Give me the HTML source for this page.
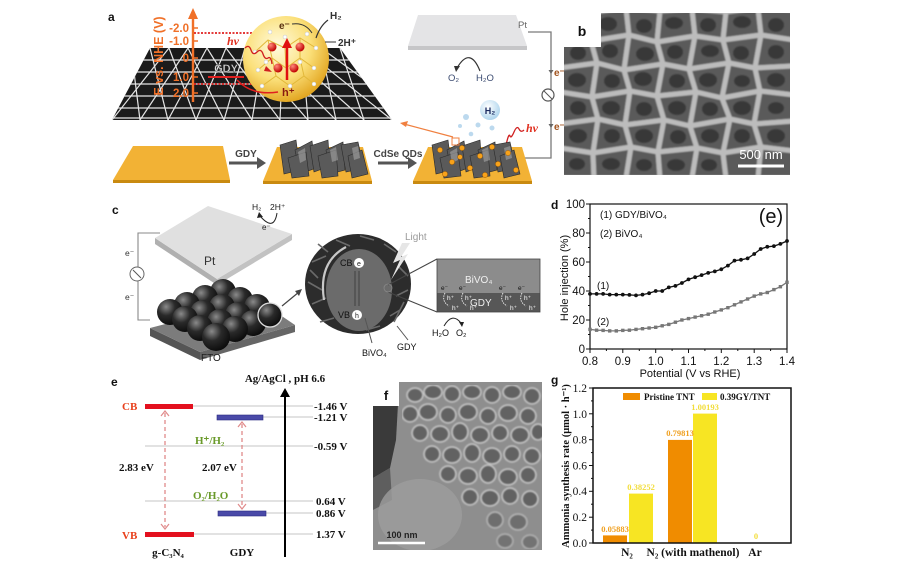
<!DOCTYPE html>
<html><head><meta charset="utf-8"><style>
html,body{margin:0;padding:0;background:#fff;}
svg{display:block;}
.sans{font-family:"Liberation Sans",Arial,sans-serif;}
.serif{font-family:"Liberation Serif","Times New Roman",serif;}
</style></head><body>
<svg width="900" height="567" viewBox="0 0 900 567" xmlns="http://www.w3.org/2000/svg">
<defs>
<radialGradient id="sph" cx="0.4" cy="0.35" r="0.7"><stop offset="0" stop-color="#fffbe0"/><stop offset="0.55" stop-color="#fbe07a"/><stop offset="1" stop-color="#e0a018"/></radialGradient>
<radialGradient id="ball" cx="0.35" cy="0.3" r="0.75"><stop offset="0" stop-color="#8a8a8a"/><stop offset="0.45" stop-color="#2a2a2a"/><stop offset="1" stop-color="#0a0a0a"/></radialGradient>
<radialGradient id="bub" cx="0.4" cy="0.35" r="0.7"><stop offset="0" stop-color="#ffffff"/><stop offset="1" stop-color="#a9d2ec"/></radialGradient>
<radialGradient id="rb" cx="0.35" cy="0.3" r="0.7"><stop offset="0" stop-color="#ff8a7a"/><stop offset="1" stop-color="#c00000"/></radialGradient>
<clipPath id="plateA"><polygon points="150,48 340,48 392,120 112,120"/></clipPath>
<clipPath id="clipB"><path d="M601,13 H790 V175 H564 V47 H601 Z"/></clipPath>
<clipPath id="clipF"><path d="M399,382 H542 V550 H373 V406 H399 Z"/></clipPath>
<filter id="soft" x="0" y="0" width="1" height="1"><feGaussianBlur stdDeviation="0.9"/></filter>
<marker id="mk1" markerWidth="5" markerHeight="5" refX="2.5" refY="2.5" markerUnits="userSpaceOnUse"><circle cx="2.5" cy="2.5" r="1.9" fill="#111"/></marker>
<marker id="mk2" markerWidth="5" markerHeight="5" refX="2.5" refY="2.5" markerUnits="userSpaceOnUse"><rect x="0.8" y="0.8" width="3.4" height="3.4" fill="#777"/></marker>
</defs>

<!-- ================= PANEL A ================= -->
<text x="108" y="21" class="sans" font-size="12" font-weight="bold" fill="#111">a</text>
<polygon points="150,48 340,48 392,120 112,120" fill="#1b1b1b"/>
<g clip-path="url(#plateA)" stroke="#e6e6e6" stroke-width="1.2" fill="none">
<line x1="100" y1="60" x2="400" y2="60"/><line x1="100" y1="72" x2="400" y2="72"/><line x1="100" y1="84" x2="400" y2="84"/><line x1="100" y1="96" x2="400" y2="96"/><line x1="100" y1="108" x2="400" y2="108"/><line x1="100" y1="118" x2="400" y2="118"/>
<line x1="93" y1="48" x2="84" y2="120"/><line x1="112" y1="48" x2="112" y2="120"/>
<line x1="131" y1="48" x2="140" y2="120"/><line x1="150" y1="48" x2="168" y2="120"/><line x1="169" y1="48" x2="196" y2="120"/><line x1="188" y1="48" x2="224" y2="120"/><line x1="207" y1="48" x2="252" y2="120"/><line x1="226" y1="48" x2="280" y2="120"/><line x1="245" y1="48" x2="308" y2="120"/><line x1="264" y1="48" x2="336" y2="120"/><line x1="283" y1="48" x2="364" y2="120"/><line x1="302" y1="48" x2="392" y2="120"/><line x1="321" y1="48" x2="420" y2="120"/><line x1="340" y1="48" x2="448" y2="120"/>
<line x1="150" y1="48" x2="84" y2="120"/><line x1="169" y1="48" x2="112" y2="120"/><line x1="188" y1="48" x2="140" y2="120"/><line x1="207" y1="48" x2="168" y2="120"/><line x1="226" y1="48" x2="196" y2="120"/><line x1="245" y1="48" x2="224" y2="120"/><line x1="264" y1="48" x2="252" y2="120"/><line x1="283" y1="48" x2="280" y2="120"/><line x1="302" y1="48" x2="308" y2="120"/><line x1="321" y1="48" x2="336" y2="120"/><line x1="340" y1="48" x2="364" y2="120"/><line x1="359" y1="48" x2="392" y2="120"/><line x1="378" y1="48" x2="420" y2="120"/>
</g>
<!-- axis -->
<line x1="193" y1="102" x2="193" y2="16" stroke="#f07028" stroke-width="2.4"/>
<polygon points="188,19 193,8 198,19" fill="#f07028"/>
<g stroke="#f07028" stroke-width="1.5"><line x1="193" y1="28" x2="198" y2="28"/><line x1="193" y1="41" x2="198" y2="41"/><line x1="193" y1="58" x2="198" y2="58"/><line x1="193" y1="77" x2="198" y2="77"/><line x1="193" y1="93" x2="198" y2="93"/></g>
<g class="sans" font-size="11.5" font-weight="bold" fill="#f07028" text-anchor="end">
<text x="189" y="32">-2.0</text><text x="189" y="45">-1.0</text><text x="189" y="62">0</text><text x="189" y="81">1.0</text><text x="189" y="97">2.0</text></g>
<text transform="translate(163,56) rotate(-90)" text-anchor="middle" class="sans" font-size="12.5" font-weight="bold" fill="#f07028">E vs. NHE (V)</text>
<line x1="194" y1="33" x2="262" y2="33" stroke="#e02020" stroke-width="1.8" stroke-dasharray="2,1.5"/>
<line x1="194" y1="84" x2="262" y2="84" stroke="#e02020" stroke-width="1.8" stroke-dasharray="2,1.5"/>
<line x1="208" y1="77" x2="244" y2="77" stroke="#e02020" stroke-width="2"/>
<text x="226" y="72" text-anchor="middle" class="sans" font-size="11" font-weight="bold" fill="#ddd" stroke="#333" stroke-width="0.4">GDY</text>
<!-- sphere -->
<circle cx="286" cy="59" r="43" fill="url(#sph)"/>
<g stroke="#e2b83a" stroke-width="1" fill="none">
<polyline points="255,52 268,40 285,48 300,38 316,48"/><polyline points="258,70 272,58 286,68 300,58 314,68"/><polyline points="262,86 276,76 290,86 304,76 314,84"/>
<line x1="268" y1="40" x2="272" y2="58"/><line x1="300" y1="38" x2="300" y2="58"/><line x1="285" y1="48" x2="286" y2="68"/><line x1="272" y1="58" x2="276" y2="76"/><line x1="300" y1="58" x2="304" y2="76"/></g>
<g fill="#fff" stroke="#bbb" stroke-width="0.4">
<circle cx="255" cy="52" r="2"/><circle cx="285" cy="37" r="2"/><circle cx="316" cy="48" r="2"/><circle cx="258" cy="70" r="2"/><circle cx="314" cy="68" r="2"/><circle cx="262" cy="86" r="2"/><circle cx="290" cy="86" r="2"/><circle cx="314" cy="84" r="2"/><circle cx="307" cy="34" r="2"/><circle cx="270" cy="32" r="2"/><circle cx="300" cy="62" r="2"/><circle cx="266" cy="62" r="2"/></g>
<g fill="url(#rb)"><circle cx="272" cy="47" r="4.5"/><circle cx="300" cy="47" r="4.5"/><circle cx="278" cy="68" r="4.5"/><circle cx="294" cy="68" r="4.5"/></g>
<line x1="287" y1="80" x2="287" y2="46" stroke="#e01010" stroke-width="2.5"/><polygon points="282,48 287,38 292,48" fill="#e01010"/>
<path d="M245,48 q4,-4 6,2 t6,2 t6,2 t5,4 t4,6" fill="none" stroke="#d02020" stroke-width="1.3"/>
<polygon points="266,66 272,72 264,71" fill="#d02020"/>
<text x="227" y="45" class="serif" font-size="12" font-style="italic" font-weight="bold" fill="#e03020">hv</text>
<path d="M237,80 Q252,96 278,92" fill="none" stroke="#e02020" stroke-width="1.5"/>
<text x="282" y="96" class="sans" font-size="11" font-weight="bold" fill="#8a1a10">h⁺</text>
<text x="279" y="29" class="sans" font-size="10" font-weight="bold" fill="#5a3010">e⁻</text>
<path d="M292,24 Q305,22 312,33" fill="none" stroke="#333" stroke-width="1"/>
<path d="M316,38 Q320,26 328,20" fill="none" stroke="#333" stroke-width="1.2"/>
<text x="330" y="19" class="sans" font-size="10" font-weight="bold" fill="#333">H₂</text>
<line x1="325" y1="42" x2="336" y2="42" stroke="#333" stroke-width="1"/>
<text x="338" y="46" class="sans" font-size="10" font-weight="bold" fill="#333">2H⁺</text>
<!-- Pt plate a -->
<polygon points="418,15 516,15 527,46 408,46" fill="#e4e4e6"/>
<polygon points="408,46 527,46 527,50 408,50" fill="#c6c6c8"/>
<text x="518" y="28" class="sans" font-size="9.5" fill="#666">Pt</text>
<path d="M528,32 H551 V158 H522" fill="none" stroke="#7a7a7a" stroke-width="1.3"/>
<circle cx="548" cy="95" r="6" fill="#fff" stroke="#555" stroke-width="1.2"/>
<line x1="544" y1="91" x2="552" y2="99" stroke="#555" stroke-width="1"/>
<polygon points="548.5,70 553.5,70 551,74" fill="#666"/><polygon points="548.5,124 553.5,124 551,128" fill="#666"/>
<text x="554" y="76" class="sans" font-size="10" font-weight="bold" fill="#a0521d">e⁻</text>
<text x="554" y="130" class="sans" font-size="10" font-weight="bold" fill="#a0521d">e⁻</text>
<path d="M480,71 Q470,46 457,68" fill="none" stroke="#333" stroke-width="1.2"/><polygon points="454,66 460,66 456,72" fill="#333"/>
<text x="448" y="81" class="sans" font-size="9.5" fill="#3a4a70">O₂</text>
<text x="476" y="81" class="sans" font-size="9.5" fill="#3a4a70">H₂O</text>
<circle cx="490" cy="110" r="10" fill="url(#bub)"/>
<text x="490" y="114" text-anchor="middle" class="sans" font-size="9" font-weight="bold" fill="#1a2a60">H₂</text>
<g fill="#bcd9ee"><circle cx="466" cy="117" r="3"/><circle cx="478" cy="125" r="2.5"/><circle cx="492" cy="128" r="2.5"/><circle cx="471" cy="134" r="2.3"/><circle cx="460" cy="126" r="2"/></g>
<path d="M524,130 q-3,3 -5,-1 t-5,3 t-4,4 t-3,5 t-3,5" fill="none" stroke="#d02020" stroke-width="1.3"/>
<polygon points="500,150 507,148 503,155" fill="#d02020"/>
<text x="526" y="132" class="serif" font-size="12" font-style="italic" font-weight="bold" fill="#e03020">hv</text>
<line x1="453" y1="137" x2="404" y2="124" stroke="#f08040" stroke-width="1.2"/><polygon points="400,123 408,121 406,127" fill="#f08040"/>
<!-- bottom plates -->
<polygon points="113,180 230,180 230,183 113,183" fill="#c98a10"/>
<polygon points="133,146 223,146 230,180 113,180" fill="#f2b235"/>
<polygon points="263,181 372,181 372,184 263,184" fill="#c98a10"/>
<polygon points="277,147 363,147 372,181 263,181" fill="#f2b235"/>
<polygon points="413,181 532,181 532,184 413,184" fill="#c98a10"/>
<polygon points="428,147 522,147 532,181 413,181" fill="#f2b235"/>
<g fill="#5a5a5a" stroke="#2a2a2a" stroke-width="0.6">
<polygon points="280,145 296,140 300,170 284,174"/><polygon points="295,150 312,141 316,168 300,174"/><polygon points="310,146 328,140 330,166 314,172"/><polygon points="326,150 343,142 345,170 330,174"/><polygon points="341,145 358,142 364,168 346,172"/><polygon points="288,158 306,152 309,176 292,178"/><polygon points="318,156 336,150 338,176 322,178"/><polygon points="348,156 362,150 368,174 352,178"/>
<polygon points="432,145 448,140 452,170 436,174"/><polygon points="447,150 464,141 468,168 452,174"/><polygon points="462,146 480,140 482,166 466,172"/><polygon points="478,150 495,142 497,170 482,174"/><polygon points="493,145 510,142 516,168 498,172"/><polygon points="440,158 458,152 461,176 444,178"/><polygon points="470,156 488,150 490,176 474,178"/><polygon points="500,156 514,150 520,174 504,178"/></g>
<g fill="#9a9a9a" opacity="0.7"><polygon points="298,152 305,148 306,160 300,163"/><polygon points="330,150 336,147 338,160 332,162"/><polygon points="352,148 358,146 360,158 354,160"/><polygon points="450,152 457,148 458,160 452,163"/><polygon points="482,150 488,147 490,160 484,162"/><polygon points="504,148 510,146 512,158 506,160"/></g>
<g fill="#f7a21a" stroke="#a05a00" stroke-width="0.5">
<circle cx="440" cy="150" r="2.6"/><circle cx="452" cy="162" r="2.6"/><circle cx="462" cy="148" r="2.6"/><circle cx="470" cy="168" r="2.6"/><circle cx="480" cy="156" r="2.6"/><circle cx="492" cy="147" r="2.6"/><circle cx="498" cy="164" r="2.6"/><circle cx="508" cy="153" r="2.6"/><circle cx="516" cy="170" r="2.6"/><circle cx="445" cy="174" r="2.6"/><circle cx="485" cy="175" r="2.6"/><circle cx="460" cy="157" r="2.4"/></g>
<rect x="452" y="138" width="7" height="7" fill="none" stroke="#f08040" stroke-width="1"/>
<line x1="229" y1="163" x2="259" y2="163" stroke="#555" stroke-width="3"/><polygon points="257,157 266,163 257,169" fill="#555"/>
<text x="246" y="157" text-anchor="middle" class="sans" font-size="10" font-weight="bold" fill="#444">GDY</text>
<line x1="378" y1="163" x2="410" y2="163" stroke="#555" stroke-width="3"/><polygon points="408,157 417,163 408,169" fill="#555"/>
<text x="398" y="157" text-anchor="middle" class="sans" font-size="10" font-weight="bold" fill="#444">CdSe QDs</text>

<!-- ================= PANEL B (SEM) ================= -->
<g clip-path="url(#clipB)">
<rect x="560" y="10" width="235" height="170" fill="#9e9e9e"/>
<g filter="url(#soft)">
<g fill="#5a5a5a" stroke="#bcbcbc" stroke-width="5" stroke-linejoin="round">
<polygon points="560,10 594,12 591,41 560,36"/><polygon points="594,12 626,8 629,35 591,41"/><polygon points="626,8 660,11 657,42 629,35"/><polygon points="660,11 692,9 695,36 657,42"/><polygon points="692,9 726,12 723,40 695,36"/><polygon points="726,12 758,8 761,35 723,40"/><polygon points="758,8 794,10 794,40 761,35"/>
<polygon points="560,36 591,41 597,63 560,68"/><polygon points="591,41 629,35 624,70 597,63"/><polygon points="629,35 657,42 663,64 624,70"/><polygon points="657,42 695,36 689,69 663,64"/><polygon points="695,36 723,40 729,63 689,69"/><polygon points="723,40 761,35 755,68 729,63"/><polygon points="761,35 794,40 794,66 755,68"/>
<polygon points="560,68 597,63 592,97 560,92"/><polygon points="597,63 624,70 630,91 592,97"/><polygon points="624,70 663,64 657,96 630,91"/><polygon points="663,64 689,69 696,92 657,96"/><polygon points="689,69 729,63 722,98 696,92"/><polygon points="729,63 755,68 760,91 722,98"/><polygon points="755,68 794,66 794,95 760,91"/>
<polygon points="560,92 592,97 598,119 560,124"/><polygon points="592,97 630,91 625,125 598,119"/><polygon points="630,91 657,96 664,120 625,125"/><polygon points="657,96 696,92 690,126 664,120"/><polygon points="696,92 722,98 730,119 690,126"/><polygon points="722,98 760,91 754,124 730,119"/><polygon points="760,91 794,95 794,121 754,124"/>
<polygon points="560,124 598,119 593,153 560,148"/><polygon points="598,119 625,125 631,147 593,153"/><polygon points="625,125 664,120 658,152 631,147"/><polygon points="664,120 690,126 697,148 658,152"/><polygon points="690,126 730,119 723,153 697,148"/><polygon points="730,119 754,124 761,147 723,153"/><polygon points="754,124 794,121 794,151 761,147"/>
<polygon points="560,148 593,153 594,178 560,178"/><polygon points="593,153 631,147 626,178 594,178"/><polygon points="631,147 658,152 660,178 626,178"/><polygon points="658,152 697,148 692,178 660,178"/><polygon points="697,148 723,153 726,178 692,178"/><polygon points="723,153 761,147 758,178 726,178"/><polygon points="761,147 794,151 794,178 758,178"/></g>
<g fill="#333" opacity="0.85">
<ellipse cx="575" cy="26" rx="8" ry="6"/><ellipse cx="608" cy="24" rx="9" ry="7"/><ellipse cx="644" cy="26" rx="8" ry="7"/><ellipse cx="674" cy="23" rx="9" ry="6"/><ellipse cx="708" cy="25" rx="8" ry="7"/><ellipse cx="742" cy="22" rx="9" ry="6"/><ellipse cx="776" cy="25" rx="8" ry="7"/>
<ellipse cx="578" cy="53" rx="8" ry="7"/><ellipse cx="610" cy="51" rx="8" ry="7"/><ellipse cx="645" cy="54" rx="9" ry="7"/><ellipse cx="675" cy="52" rx="8" ry="7"/><ellipse cx="710" cy="51" rx="9" ry="6"/><ellipse cx="741" cy="53" rx="8" ry="7"/><ellipse cx="776" cy="52" rx="8" ry="7"/>
<ellipse cx="577" cy="80" rx="9" ry="7"/><ellipse cx="612" cy="81" rx="8" ry="7"/><ellipse cx="643" cy="79" rx="9" ry="7"/><ellipse cx="677" cy="81" rx="8" ry="7"/><ellipse cx="708" cy="80" rx="9" ry="7"/><ellipse cx="742" cy="81" rx="8" ry="6"/><ellipse cx="776" cy="80" rx="9" ry="7"/>
<ellipse cx="578" cy="108" rx="8" ry="7"/><ellipse cx="611" cy="108" rx="9" ry="7"/><ellipse cx="644" cy="109" rx="8" ry="7"/><ellipse cx="677" cy="108" rx="9" ry="7"/><ellipse cx="710" cy="109" rx="8" ry="7"/><ellipse cx="742" cy="108" rx="9" ry="7"/><ellipse cx="776" cy="108" rx="8" ry="6"/>
<ellipse cx="578" cy="136" rx="9" ry="7"/><ellipse cx="612" cy="136" rx="8" ry="7"/><ellipse cx="644" cy="136" rx="9" ry="7"/><ellipse cx="678" cy="137" rx="8" ry="7"/><ellipse cx="710" cy="136" rx="9" ry="7"/><ellipse cx="742" cy="136" rx="8" ry="7"/><ellipse cx="776" cy="136" rx="9" ry="7"/>
<ellipse cx="577" cy="164" rx="8" ry="6"/><ellipse cx="611" cy="164" rx="9" ry="6"/><ellipse cx="644" cy="165" rx="8" ry="6"/><ellipse cx="676" cy="165" rx="9" ry="6"/><ellipse cx="709" cy="165" rx="8" ry="6"/></g>
</g>
</g>
<text x="582" y="36" text-anchor="middle" class="sans" font-size="14" font-weight="bold" fill="#111">b</text>
<text x="761" y="159" text-anchor="middle" class="sans" font-size="13" fill="#fff">500 nm</text>
<line x1="738" y1="166" x2="784" y2="166" stroke="#fff" stroke-width="3"/>

<!-- ================= PANEL C ================= -->
<text x="112" y="214" class="sans" font-size="12" font-weight="bold" fill="#111">c</text>
<polygon points="155,238 217,279 217,285 155,244" fill="#b0b0b0"/>
<polygon points="217,279 292,234 292,240 217,285" fill="#c2c2c2"/>
<polygon points="155,238 208,206 292,234 217,279" fill="#e0e0e0"/>
<text x="204" y="265" class="sans" font-size="12" fill="#333">Pt</text>
<text x="252" y="210" class="sans" font-size="8.5" fill="#222">H₂</text>
<text x="270" y="210" class="sans" font-size="8.5" fill="#222">2H⁺</text>
<path d="M277,213 Q274,232 260,216" fill="none" stroke="#222" stroke-width="1"/><polygon points="257,218 259,212 263,217" fill="#222"/>
<text x="262" y="230" class="sans" font-size="8" fill="#222">e⁻</text>
<path d="M160,233 H138 V320 H150" fill="none" stroke="#888" stroke-width="1.1"/>
<circle cx="137" cy="274" r="7" fill="#fff" stroke="#666" stroke-width="1"/>
<line x1="133" y1="270" x2="141" y2="278" stroke="#555" stroke-width="1"/>
<text x="125" y="256" class="sans" font-size="8.5" fill="#333">e⁻</text>
<text x="125" y="300" class="sans" font-size="8.5" fill="#333">e⁻</text>
<polygon points="150,328 200,352 200,360 150,336" fill="#555"/>
<polygon points="200,352 295,325 295,332 200,360" fill="#666"/>
<polygon points="150,328 258,300 295,325 200,352" fill="#7c7c7c"/>
<text x="201" y="361" class="sans" font-size="10" fill="#222">FTO</text>
<g fill="url(#ball)">
<circle cx="223" cy="292" r="13"/><circle cx="205" cy="298" r="13"/><circle cx="240" cy="300" r="13"/><circle cx="187" cy="305" r="13"/><circle cx="222" cy="307" r="13"/><circle cx="257" cy="307" r="13"/><circle cx="170" cy="312" r="13"/><circle cx="203" cy="313" r="13"/><circle cx="238" cy="315" r="13"/><circle cx="185" cy="319" r="13"/><circle cx="220" cy="322" r="13"/><circle cx="253" cy="323" r="13"/><circle cx="200" cy="328" r="13"/><circle cx="235" cy="329" r="13"/><circle cx="216" cy="337" r="14"/></g>
<circle cx="270" cy="315" r="12" fill="url(#ball)" stroke="#ddd" stroke-width="1.3"/>
<line x1="282" y1="306" x2="299" y2="292" stroke="#444" stroke-width="1.2"/><polygon points="302,289 295,291 299,296" fill="#444"/>
<!-- sphere c -->
<ellipse cx="358" cy="284" rx="53" ry="50" fill="#2c2c2c"/>
<g stroke="#6a6a6a" stroke-width="1.6">
<line x1="312" y1="262" x2="326" y2="256"/><line x1="308" y1="282" x2="322" y2="290"/><line x1="312" y1="304" x2="326" y2="298"/><line x1="320" y1="322" x2="334" y2="318"/><line x1="336" y1="240" x2="350" y2="246"/><line x1="360" y1="236" x2="374" y2="240"/><line x1="384" y1="244" x2="396" y2="252"/><line x1="398" y1="266" x2="408" y2="276"/><line x1="396" y1="296" x2="408" y2="290"/><line x1="390" y1="316" x2="400" y2="310"/><line x1="366" y1="330" x2="380" y2="326"/><line x1="318" y1="244" x2="328" y2="252"/><line x1="404" y1="302" x2="394" y2="322"/><line x1="310" y1="270" x2="318" y2="278"/></g>
<path d="M324,300 Q318,262 346,247" fill="none" stroke="#c8c8c8" stroke-width="2.2"/>
<ellipse cx="359" cy="290" rx="33" ry="41" fill="#6b6b6b"/>
<polygon points="402,243 393,263 400,260 391,280 408,254 401,257 410,243" fill="#e6e6e6"/>
<text x="405" y="240" class="sans" font-size="10" fill="#9a9a9a">Light</text>
<text x="340" y="266" class="sans" font-size="9" fill="#111">CB</text>
<circle cx="359" cy="263" r="5" fill="#fff"/><text x="359" y="266" text-anchor="middle" class="sans" font-size="7" fill="#222">e</text>
<text x="338" y="318" class="sans" font-size="9" fill="#111">VB</text>
<circle cx="357" cy="315" r="5" fill="#fff"/><text x="357" y="318" text-anchor="middle" class="sans" font-size="7" fill="#222">h</text>
<line x1="355" y1="271" x2="355" y2="306" stroke="#4a4a4a" stroke-width="1.3"/><line x1="359" y1="271" x2="359" y2="306" stroke="#4a4a4a" stroke-width="1.3"/>
<line x1="388" y1="285" x2="437" y2="259" stroke="#444" stroke-width="1"/><line x1="388" y1="292" x2="437" y2="312" stroke="#444" stroke-width="1"/>
<circle cx="388" cy="288" r="4" fill="none" stroke="#888" stroke-width="0.8"/>
<rect x="437" y="259" width="103" height="34" fill="#8c8c8c"/>
<rect x="437" y="293" width="103" height="19" fill="#575757"/>
<rect x="437" y="259" width="103" height="53" fill="none" stroke="#444" stroke-width="0.8"/>
<text x="465" y="283" class="sans" font-size="10" fill="#f0f0f0">BiVO₄</text>
<text x="470" y="306" class="sans" font-size="10" fill="#f0f0f0">GDY</text>
<g class="sans" font-size="6.5" fill="#111"><text x="441" y="290">e⁻</text><text x="459" y="290">e⁻</text><text x="499" y="290">e⁻</text><text x="518" y="290">e⁻</text></g>
<g class="sans" font-size="6.5" fill="#fff"><text x="447" y="300">h⁺</text><text x="465" y="300">h⁺</text><text x="505" y="300">h⁺</text><text x="524" y="300">h⁺</text><text x="452" y="310">h⁺</text><text x="470" y="310">h⁺</text><text x="510" y="310">h⁺</text><text x="529" y="310">h⁺</text></g>
<g fill="none" stroke="#eee" stroke-width="0.9" stroke-dasharray="1.5,1"><path d="M445,293 q-4,8 4,13"/><path d="M463,293 q-4,8 4,13"/><path d="M503,293 q-4,8 4,13"/><path d="M522,293 q-4,8 4,13"/></g>
<text x="432" y="336" class="sans" font-size="9" fill="#111">H₂O</text>
<text x="456" y="336" class="sans" font-size="9" fill="#111">O₂</text>
<path d="M444,326 Q452,312 461,323" fill="none" stroke="#222" stroke-width="1"/><polygon points="459,322 464,322 462,327" fill="#222"/>
<line x1="372" y1="343" x2="365" y2="318" stroke="#555" stroke-width="1"/>
<line x1="408" y1="340" x2="397" y2="326" stroke="#555" stroke-width="1"/>
<text x="362" y="356" class="sans" font-size="9" fill="#111">BiVO₄</text>
<text x="397" y="350" class="sans" font-size="9" fill="#111">GDY</text>

<!-- ================= PANEL D ================= -->
<text x="551" y="209" class="sans" font-size="12" font-weight="bold" fill="#111">d</text>
<rect x="590" y="204" width="197" height="145" fill="none" stroke="#111" stroke-width="1.2"/>
<g stroke="#111" stroke-width="1">
<line x1="586" y1="204" x2="590" y2="204"/><line x1="586" y1="233" x2="590" y2="233"/><line x1="586" y1="262" x2="590" y2="262"/><line x1="586" y1="291" x2="590" y2="291"/><line x1="586" y1="320" x2="590" y2="320"/><line x1="586" y1="349" x2="590" y2="349"/>
<line x1="588" y1="218.5" x2="590" y2="218.5"/><line x1="588" y1="247.5" x2="590" y2="247.5"/><line x1="588" y1="276.5" x2="590" y2="276.5"/><line x1="588" y1="305.5" x2="590" y2="305.5"/><line x1="588" y1="334.5" x2="590" y2="334.5"/>
<line x1="590" y1="349" x2="590" y2="353"/><line x1="622.8" y1="349" x2="622.8" y2="353"/><line x1="655.7" y1="349" x2="655.7" y2="353"/><line x1="688.5" y1="349" x2="688.5" y2="353"/><line x1="721.3" y1="349" x2="721.3" y2="353"/><line x1="754.2" y1="349" x2="754.2" y2="353"/><line x1="787" y1="349" x2="787" y2="353"/>
<line x1="606.4" y1="349" x2="606.4" y2="351"/><line x1="639.3" y1="349" x2="639.3" y2="351"/><line x1="672.1" y1="349" x2="672.1" y2="351"/><line x1="704.9" y1="349" x2="704.9" y2="351"/><line x1="737.8" y1="349" x2="737.8" y2="351"/><line x1="770.6" y1="349" x2="770.6" y2="351"/></g>
<g class="sans" font-size="11.5" fill="#111" text-anchor="end">
<text x="585" y="208">100</text><text x="585" y="237">80</text><text x="585" y="266">60</text><text x="585" y="295">40</text><text x="585" y="324">20</text><text x="585" y="353">0</text></g>
<g class="sans" font-size="11.5" fill="#111" text-anchor="middle">
<text x="590" y="365">0.8</text><text x="622.8" y="365">0.9</text><text x="655.7" y="365">1.0</text><text x="688.5" y="365">1.1</text><text x="721.3" y="365">1.2</text><text x="754.2" y="365">1.3</text><text x="787" y="365">1.4</text></g>
<text x="690" y="377" text-anchor="middle" class="sans" font-size="11" fill="#111">Potential (V vs RHE)</text>
<text transform="translate(568,278) rotate(-90)" text-anchor="middle" class="sans" font-size="11" fill="#111">Hole injection (%)</text>
<text x="600" y="218" class="sans" font-size="10" fill="#111">(1) GDY/BiVO₄</text>
<text x="600" y="237" class="sans" font-size="10" fill="#111">(2) BiVO₄</text>
<text x="771" y="223" text-anchor="middle" class="sans" font-size="20" fill="#111">(e)</text>
<text x="597" y="289" class="sans" font-size="10" fill="#111">(1)</text>
<text x="597" y="325" class="sans" font-size="10" fill="#111">(2)</text>
<polyline fill="none" stroke="#111" stroke-width="1.3" marker-start="url(#mk1)" marker-mid="url(#mk1)" marker-end="url(#mk1)" points="590,293.9 596.6,293.9 603.1,293.9 609.7,294.6 616.3,294.6 622.8,294.6 629.4,294.9 636,295.4 642.5,294.6 649.1,293.2 655.7,291 662.2,291 668.8,287.4 675.4,285.9 681.9,283 688.5,279.4 695.1,277.2 701.6,275.1 708.2,272.9 714.8,271.4 721.3,269.3 727.9,265.6 734.5,260.6 741,259.8 747.6,258.4 754.2,254 760.7,249 767.3,246.8 773.9,246.1 780.4,243.9 787,241"/>
<polyline fill="none" stroke="#777" stroke-width="1.3" marker-start="url(#mk2)" marker-mid="url(#mk2)" marker-end="url(#mk2)" points="590,329.4 596.6,330.2 603.1,330.4 609.7,330.9 616.3,330.9 622.8,330.4 629.4,330.2 636,329.4 642.5,328.7 649.1,328 655.7,327.3 662.2,325.8 668.8,324.4 675.4,322.2 681.9,320 688.5,318.6 695.1,317.1 701.6,315.7 708.2,314.2 714.8,312 721.3,309.9 727.9,307.7 734.5,304.8 741,301.9 747.6,299 754.2,296.1 760.7,293.9 767.3,292.5 773.9,289.6 780.4,286.7 787,282.3"/>

<!-- ================= PANEL E ================= -->
<text x="111" y="386" class="sans" font-size="12" font-weight="bold" fill="#111">e</text>
<text x="285" y="382" text-anchor="middle" class="serif" font-size="11" font-weight="bold" fill="#111">Ag/AgCl , pH 6.6</text>
<g stroke="#c4c4c4" stroke-width="1">
<line x1="193" y1="406" x2="313" y2="406"/><line x1="263" y1="417" x2="313" y2="417"/><line x1="145" y1="446" x2="313" y2="446"/><line x1="145" y1="501" x2="313" y2="501"/><line x1="266" y1="513" x2="313" y2="513"/><line x1="194" y1="534" x2="313" y2="534"/></g>
<line x1="285" y1="557" x2="285" y2="395" stroke="#000" stroke-width="2"/>
<polygon points="280,397 285,388 290,397" fill="#000"/>
<rect x="145" y="404" width="48" height="5" fill="#e3101e"/>
<rect x="145" y="532" width="49" height="5" fill="#e3101e"/>
<rect x="217" y="415" width="46" height="5" fill="#4a4aa8" stroke="#2a2a80" stroke-width="0.6"/>
<rect x="218" y="511" width="48" height="5" fill="#4a4aa8" stroke="#2a2a80" stroke-width="0.6"/>
<line x1="165" y1="413" x2="165" y2="527" stroke="#e08a8a" stroke-width="1.3" stroke-dasharray="4,3"/>
<polyline points="161,416 165,411 169,416" fill="none" stroke="#e08a8a" stroke-width="1.2"/>
<polyline points="161,524 165,529 169,524" fill="none" stroke="#e08a8a" stroke-width="1.2"/>
<line x1="242" y1="424" x2="242" y2="507" stroke="#e08a8a" stroke-width="1.3" stroke-dasharray="4,3"/>
<polyline points="238,427 242,422 246,427" fill="none" stroke="#e08a8a" stroke-width="1.2"/>
<polyline points="238,504 242,509 246,504" fill="none" stroke="#e08a8a" stroke-width="1.2"/>
<g class="serif" font-size="11" font-weight="bold">
<text x="122" y="410" fill="#e8401c">CB</text><text x="122" y="539" fill="#e8401c">VB</text>
<text x="119" y="471" fill="#111">2.83 eV</text><text x="202" y="471" fill="#111">2.07 eV</text>
<text x="195" y="444" fill="#6a9a2a">H⁺/H₂</text><text x="193" y="499" fill="#6a9a2a">O₂/H₂O</text>
<text x="314" y="410" fill="#111">-1.46 V</text><text x="314" y="421" fill="#111">-1.21 V</text><text x="314" y="450" fill="#111">-0.59 V</text><text x="316" y="505" fill="#111">0.64 V</text><text x="316" y="517" fill="#111">0.86 V</text><text x="316" y="538" fill="#111">1.37 V</text>
<text x="168" y="556" text-anchor="middle" fill="#111">g-C₃N₄</text><text x="242" y="556" text-anchor="middle" fill="#111">GDY</text></g>

<!-- ================= PANEL F (SEM) ================= -->
<g clip-path="url(#clipF)">
<rect x="370" y="380" width="175" height="172" fill="#8e8e8e"/>
<polygon points="373,404 398,404 396,440 390,468 373,478" fill="#3a3a3a"/>
<polygon points="373,478 390,468 392,500 373,510" fill="#5e5e5e"/>
<ellipse cx="420" cy="515" rx="42" ry="36" fill="#9e9e9e" opacity="0.8"/>
<g filter="url(#soft)">
<g fill="#626262" stroke="#c6c6c6" stroke-width="1.5">
<ellipse cx="415" cy="395" rx="8" ry="7"/><ellipse cx="433" cy="392" rx="9" ry="7"/><ellipse cx="452" cy="394" rx="8" ry="8"/><ellipse cx="472" cy="392" rx="9" ry="7"/><ellipse cx="492" cy="395" rx="8" ry="8"/><ellipse cx="512" cy="392" rx="9" ry="7"/><ellipse cx="532" cy="396" rx="8" ry="8"/>
<ellipse cx="410" cy="414" rx="8" ry="8"/><ellipse cx="428" cy="412" rx="9" ry="8"/><ellipse cx="448" cy="415" rx="8" ry="8"/><ellipse cx="468" cy="412" rx="9" ry="8"/><ellipse cx="488" cy="416" rx="8" ry="8"/><ellipse cx="508" cy="413" rx="9" ry="8"/><ellipse cx="528" cy="416" rx="8" ry="8"/>
<ellipse cx="420" cy="433" rx="8" ry="8"/><ellipse cx="440" cy="434" rx="9" ry="8"/><ellipse cx="460" cy="432" rx="8" ry="9"/><ellipse cx="480" cy="435" rx="9" ry="8"/><ellipse cx="500" cy="433" rx="8" ry="8"/><ellipse cx="520" cy="435" rx="9" ry="8"/><ellipse cx="538" cy="432" rx="7" ry="8"/>
<ellipse cx="432" cy="454" rx="8" ry="8"/><ellipse cx="452" cy="455" rx="9" ry="8"/><ellipse cx="472" cy="453" rx="8" ry="9"/><ellipse cx="492" cy="456" rx="9" ry="8"/><ellipse cx="512" cy="454" rx="8" ry="8"/><ellipse cx="532" cy="456" rx="8" ry="8"/>
<ellipse cx="448" cy="474" rx="8" ry="8"/><ellipse cx="468" cy="476" rx="9" ry="8"/><ellipse cx="488" cy="474" rx="8" ry="9"/><ellipse cx="508" cy="477" rx="9" ry="8"/><ellipse cx="528" cy="475" rx="8" ry="8"/>
<ellipse cx="470" cy="497" rx="8" ry="8"/><ellipse cx="490" cy="498" rx="9" ry="8"/><ellipse cx="510" cy="496" rx="8" ry="8"/><ellipse cx="530" cy="499" rx="8" ry="8"/>
<ellipse cx="495" cy="520" rx="8" ry="8" opacity="0.7"/><ellipse cx="518" cy="522" rx="9" ry="8" opacity="0.7"/><ellipse cx="505" cy="541" rx="8" ry="7" opacity="0.6"/><ellipse cx="530" cy="542" rx="8" ry="7" opacity="0.6"/></g>
</g>
</g>
<text x="386" y="400" text-anchor="middle" class="sans" font-size="13" font-weight="bold" fill="#111">f</text>
<text x="402" y="538" text-anchor="middle" class="sans" font-size="9" font-weight="bold" fill="#222">100 nm</text>
<line x1="378" y1="543" x2="425" y2="543" stroke="#fff" stroke-width="2.5"/>

<!-- ================= PANEL G ================= -->
<text x="551" y="384" class="sans" font-size="12" font-weight="bold" fill="#111">g</text>
<rect x="603" y="535.4" width="24" height="7.6" fill="#f08c00"/>
<rect x="629" y="493.6" width="24" height="49.4" fill="#f7e523"/>
<rect x="668" y="439.9" width="24" height="103.1" fill="#f08c00"/>
<rect x="693" y="413.6" width="24" height="129.4" fill="#f7e523"/>
<rect x="593" y="388" width="198" height="155" fill="none" stroke="#111" stroke-width="1.5"/>
<g stroke="#111" stroke-width="1">
<line x1="589" y1="543" x2="593" y2="543"/><line x1="589" y1="517.2" x2="593" y2="517.2"/><line x1="589" y1="491.3" x2="593" y2="491.3"/><line x1="589" y1="465.5" x2="593" y2="465.5"/><line x1="589" y1="439.7" x2="593" y2="439.7"/><line x1="589" y1="413.8" x2="593" y2="413.8"/><line x1="589" y1="388" x2="593" y2="388"/>
<line x1="591" y1="530.1" x2="593" y2="530.1"/><line x1="591" y1="504.2" x2="593" y2="504.2"/><line x1="591" y1="478.4" x2="593" y2="478.4"/><line x1="591" y1="452.6" x2="593" y2="452.6"/><line x1="591" y1="426.7" x2="593" y2="426.7"/><line x1="591" y1="400.9" x2="593" y2="400.9"/></g>
<g class="serif" font-size="11.5" fill="#111" text-anchor="end">
<text x="587" y="547">0.0</text><text x="587" y="521">0.2</text><text x="587" y="495">0.4</text><text x="587" y="469.5">0.6</text><text x="587" y="443.5">0.8</text><text x="587" y="418">1.0</text><text x="587" y="392">1.2</text></g>
<text transform="translate(569,466) rotate(-90)" text-anchor="middle" class="serif" font-size="10.5" font-weight="bold" fill="#111">Ammonia synthesis rate (μmol · h⁻¹)</text>
<rect x="623" y="393" width="17" height="7" fill="#f08c00"/>
<text x="644" y="400" class="serif" font-size="9" font-weight="bold" fill="#111">Pristine TNT</text>
<rect x="702" y="393" width="15" height="7" fill="#f7e523"/>
<text x="720" y="400" class="serif" font-size="9" font-weight="bold" fill="#111">0.39GY/TNT</text>
<g class="serif" font-size="8.5" font-weight="bold" text-anchor="middle">
<text x="615" y="532" fill="#f0a020">0.05883</text><text x="641" y="490" fill="#f2dd3a">0.38252</text><text x="680" y="436" fill="#f0a020">0.79813</text><text x="705" y="410" fill="#f2dd3a">1.00193</text><text x="756" y="539" fill="#f2dd3a">0</text></g>
<g class="serif" font-size="11.5" font-weight="bold" fill="#111" text-anchor="middle">
<text x="627" y="556">N₂</text><text x="693" y="556">N₂ (with mathenol)</text><text x="755" y="556">Ar</text></g>
</svg>
</body></html>
